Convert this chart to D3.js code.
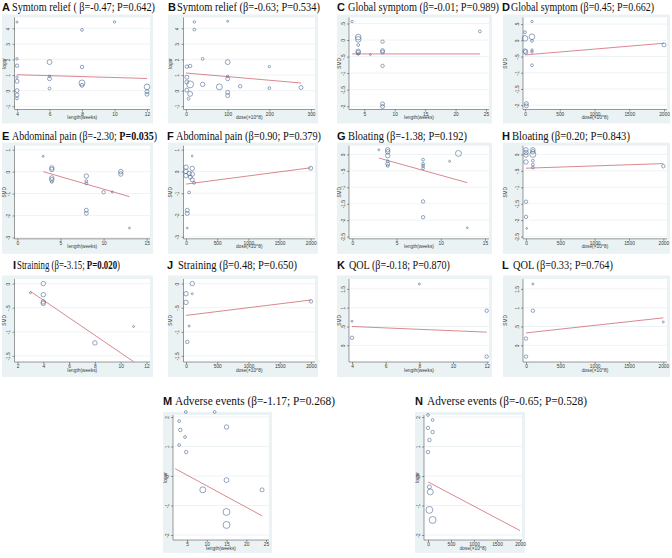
<!DOCTYPE html>
<html><head><meta charset="utf-8">
<script src="https://cdn.jsdelivr.net/npm/d3@7"></script>
<style>body{margin:0;background:#fff}svg{display:block}</style>
</head><body>
<svg id="c" width="672" height="558"></svg>
<script>
// ---------- data ----------
const letters = ["A","B","C","D","E","F","G","H","I","J","K","L","M","N"];
const outcomes = ["Symtom relief ( ","Symtom relief (","Global symptom (","Global symptom (","Abdominal pain (","Abdominal pain (","Bloating (","Bloating (","Straining (","Straining (","QOL (","QOL (","Adverse events (","Adverse events ("];
const betas = ["-0.47","-0.63","-0.01","0.45","-2.30","0.90","-1.38","0.20","-3.15","0.48","-0.18","0.33","-1.17","-0.65"];
const pvals = ["0.642","0.534","0.989","0.662","0.035","0.379","0.192","0.843","0.020","0.650","0.870","0.764","0.268","0.528"];
const xTitles = ["length(weeks)","dose(×10^8)"];
const yTitles = ["logor","logor","SMD","SMD","SMD","SMD","SMD","SMD","SMD","SMD","SMD","SMD","logor","logor"];

const xTicksWeeksA = [4,6,8,10,12];
const xTicksWeeksC = [5,10,15,20,25];
const xTicksWeeksE = [0,5,10,15];
const xTicksWeeksI = [2,4,6,8,10,12];
const xTicksDoseB = [0,100,200,300];
const xTicksDose = [0,500,1000,1500,2000];
const yTicksLogor = [-1,0,1,2,3,4];
const yTicksGlobal = [-2,-1.5,-1,-0.5,0,0.5];
const yTicksPain = [-3,-2,-1,0,1];
const yTicksBloat = [-2.5,-2,-1.5,-1,-0.5,0];
const yTicksStrain = [-1.5,-1,-0.5,0];
const yTicksQol = [0,0.5,1,1.5];
const yTicksAE = [-2,-1,0,1,2];

// points: [x, y, weight]
const ptsA = [[4,4.4,1],[10,4.41,1.5],[8,3.9,2],[4,2.04,1.5],[4,1.6,3],[6,1.83,6],[8,1.52,3],[4,0.86,1.5],[4,0.6,4],[6,0.92,1.5],[6,0.76,4],[4,0,4],[4,-0.28,4],[4,-0.5,2],[6,0.14,2],[8,0.49,9],[8,0.34,4],[12,0.24,8],[12,-0.07,4],[12,-0.23,4]];
const ptsB = [[20,4.41,1.5],[100,4.45,1],[20,3.92,2],[40,2.04,2],[100,1.83,6],[2,1.54,3],[10,1.58,3],[200,1.54,1.5],[2,0.86,4],[100,0.92,1.5],[100,0.76,4],[2,0.55,4],[10,0.40,12],[40,0.40,5],[80,0.24,9],[130,0.28,3],[200,0.16,2],[276,0.2,4],[2,0.03,4],[10,-0.21,6],[100,-0.11,4],[100,-0.32,4],[6,-0.52,2]];
const ptsC = [[3,0.56,1.5],[4,0.09,8],[4,0.02,8],[4,-0.15,2],[4,-0.34,5],[4,-0.38,5],[4,-0.42,1.5],[6,-0.44,0.8],[8,-0.05,3],[8,-0.32,4],[8,-0.36,4],[8,-0.78,3],[8,-1.93,4],[8,-2.01,4],[24,0.26,2]];
const ptsD = [[100,0.58,1.5],[0,0.25,2],[0,0.06,8],[100,0.11,8],[100,-0.02,2],[0,-0.33,5],[10,-0.36,5],[100,-0.3,1.5],[100,-0.36,1.5],[100,-0.77,2],[20,-1.95,4],[20,-2.02,4],[2000,-0.14,4]];
const ptsE = [[3,0.7,1],[4,0.17,5],[4,0.1,5],[4,-0.29,5],[4,-0.37,5],[4,-0.47,2],[8,-0.2,5],[8,-0.43,2],[8,-0.54,2],[8,-1.76,4],[8,-1.9,4],[10,-0.94,3],[11,-0.93,1],[12,0,5],[12,-0.11,5],[13,-2.57,0.8]];
const ptsF = [[100,0.71,0.8],[0,0.2,5],[100,0.14,5],[0,0,5],[50,-0.09,5],[100,-0.12,5],[0,-0.19,5],[70,-0.26,4],[100,-0.38,4],[130,-0.52,2],[50,-0.96,2],[20,-1.78,4],[20,-1.93,4],[20,-2.6,0.8],[2000,0.15,4]];
const ptsG = [[3,0.14,1],[4,0.14,5],[4,0.08,5],[4,-0.04,5],[4,-0.21,2],[4,-0.29,4],[4,-0.35,2],[8,-0.16,2],[8,-0.29,2],[8,-0.35,2],[8,-0.42,2],[8,-1.43,3],[8,-1.91,3],[11,-0.21,1],[12,0.03,9],[13,-2.23,0.8]];
const ptsH = [[0,0.14,5],[100,0.14,5],[0,0.06,5],[100,0.08,5],[0,-0.02,5],[100,0,9],[0,-0.23,5],[100,-0.19,2],[100,-0.31,2],[100,-0.4,2],[0,-1.44,3],[0,-1.9,3],[10,-2.25,0.8],[2000,-0.36,3]];
const ptsI = [[3,-0.19,1],[4,0,5],[4,-0.23,5],[4,-0.38,5],[4,-0.41,5],[8,-1.23,5],[11,-0.89,1]];
const ptsJ = [[100,0,5],[0,-0.21,5],[100,-0.21,1],[0,-0.39,5],[2000,-0.37,3],[50,-0.88,1],[20,-1.21,3]];
const ptsK = [[4,0.64,1],[4,0.2,3],[8,1.63,1],[12,0.92,3],[12,-0.3,3]];
const ptsL = [[100,1.63,1],[100,0.92,3],[0,0.18,3],[2000,0.62,1],[0,-0.3,3]];
const ptsM = [[3,1.86,2],[4.7,2.17,2],[3.3,1.56,3],[4.5,1.32,2],[3,1.05,2],[4.8,0.81,3],[12,2.17,2],[15,1.66,5],[9,-0.47,9],[15,-0.14,6],[15,-1.22,12],[15,-1.66,12],[24,-0.47,4]];
const ptsN = [[0,2.07,2],[100,1.9,2],[0,1.63,3],[100,1.49,3],[30,1.22,3],[0,0.81,3],[30,-0.37,4],[50,-0.54,9],[30,-1.15,12],[100,-1.49,12]];

// fitted meta-regression lines: [x0, y0, x1, y1]
const fits = [[4,1.02,12,0.78],[0,1.13,276,0.49],[3,-0.42,24,-0.42],[0,-0.45,2000,-0.09],[3,0,13,-1.14],[0,-0.58,2000,0.17],[3,-0.11,13,-0.86],[0,-0.42,2000,-0.28],[3,-0.16,11,-1.62],[0,-0.66,2000,-0.34],[4,0.5,12,0.35],[0,0.33,2000,0.73],[2,0.25,24,-1.35],[0,-0.2,2000,-1.85]];

const points = [ptsA,ptsB,ptsC,ptsD,ptsE,ptsF,ptsG,ptsH,ptsI,ptsJ,ptsK,ptsL,ptsM,ptsN];
const xTickSets = [xTicksWeeksA,xTicksDoseB,xTicksWeeksC,xTicksDose,xTicksWeeksE,xTicksDose,xTicksWeeksE,xTicksDose,xTicksWeeksI,xTicksDose,xTicksWeeksA,xTicksDose,xTicksWeeksC,xTicksDose];
const yTickSets = [yTicksLogor,yTicksLogor,yTicksGlobal,yTicksGlobal,yTicksPain,yTicksPain,yTicksBloat,yTicksBloat,yTicksStrain,yTicksStrain,yTicksQol,yTicksQol,yTicksAE,yTicksAE];

// ---------- layout (pixels) ----------
const rowsY = [ // box top, plot top, axis, box bottom, title baseline
  [14.5,17.4,109.5,123.5,11],
  [142.6,145.7,238.8,253.8,140],
  [275.4,278.9,362,377,269],
  [412,415,540,553,405]
];
const colsX = { // box x0, plot x0, plot x1, box x1
  A:[2,14.5,150,153], B:[168,183.5,315,318], C:[337,349,489,492], D:[503,523,667,670],
  M:[163,173,269,272], N:[415,424,522,525]
};
const panelCol = ["A","B","C","D","A","B","C","D","A","B","C","D","M","N"];
const xr = [[17,147],[186,311],[364.3,486],[525,664],[17.3,146.7],[186,310.7],[352.3,485],[526,663.3],[17.5,146.5],[186,311],[352,486.7],[526,663.3],[187,266],[428,520]];
const yr = [[106.2,28.3],[106.2,28.3],[106.2,23.5],[105.2,24.1],[237.4,149.7],[236.8,149.7],[236.6,154.4],[236.6,154.4],[355.9,283.6],[355.9,283.6],[345.3,288.9],[345.3,288.9],[535,417],[535,417]];
const titleX = [[2,12,155],[168,177,320],[337,348,499],[502,511,654],[2,12,157],[167,176,321],[337,348,467],[502,512,630],[13,17,120],[167,178,297],[337,349,450],[502,513,613],[163,175,335],[415,427,587]];

const svg = d3.select("#c");
const rScale = d3.scaleSqrt().domain([0,16]).range([0,4]);
const fmt = v => String(v).replace(/^(-?)0\./,"$1.");
const ink = "#3a3a3a";
const tickFont = 4.8;

letters.forEach((letter,i) => {
  const row = rowsY[Math.min(Math.floor(i/4),3)];
  const col = colsX[panelCol[i]];
  const g = svg.append("g");
  const bx0=col[0], px0=col[1], px1=col[2], bx1=col[3];
  const by0=row[0], py0=row[1], py1=row[2], by1=row[3];
  g.append("rect").attr("x",bx0).attr("y",by0).attr("width",bx1-bx0).attr("height",by1-by0).attr("fill","#eaf2f3");
  g.append("rect").attr("x",px0).attr("y",py0).attr("width",px1-px0).attr("height",py1-py0).attr("fill","#ffffff");
  const xt = xTickSets[i], yt = yTickSets[i];
  const x = d3.scaleLinear().domain([xt[0], xt[xt.length-1]]).range(xr[i]);
  const y = d3.scaleLinear().domain([yt[0], yt[yt.length-1]]).range(yr[i]);
  g.selectAll("line.grid").data(yt).join("line").attr("class","grid").attr("x1",px0).attr("x2",px1)
    .attr("y1",d=>y(d)).attr("y2",d=>y(d)).attr("stroke","#e3ecee").attr("stroke-width",0.6);
  const ax = g.append("g").attr("transform",`translate(0,${py1})`)
    .call(d3.axisBottom(x).tickValues(xt).tickSize(2).tickPadding(1).tickFormat(fmt));
  ax.select(".domain").attr("d",`M${px0},0H${px1}`).attr("stroke",ink).attr("stroke-width",0.5);
  ax.selectAll(".tick line").attr("stroke",ink).attr("stroke-width",0.5);
  ax.selectAll(".tick text").attr("font-size",tickFont).attr("font-family","Liberation Sans, Arial").attr("fill",ink);
  const ay = g.append("g").attr("transform",`translate(${px0},0)`)
    .call(d3.axisLeft(y).tickValues(yt).tickSize(2).tickFormat(fmt));
  ay.select(".domain").attr("d",`M0,${py0}V${py1}`).attr("stroke",ink).attr("stroke-width",0.5);
  ay.selectAll(".tick line").attr("stroke",ink).attr("stroke-width",0.5);
  ay.selectAll(".tick text").attr("font-size",tickFont).attr("font-family","Liberation Sans, Arial").attr("fill",ink)
    .attr("x",null).attr("y",0).attr("dy","0").attr("text-anchor","middle")
    .attr("transform","translate(-4.5,0) rotate(-90)");
  g.append("text").attr("x",(px0+px1)/2).attr("y",py1+9.5).attr("text-anchor","middle")
    .attr("font-size",tickFont).attr("font-family","Liberation Sans, Arial").attr("fill",ink)
    .text(xTitles[i%2]);
  g.append("text").attr("transform",`translate(${bx0+3.8},${(py0+py1)/2}) rotate(-90)`).attr("text-anchor","middle")
    .attr("font-size",tickFont).attr("font-family","Liberation Sans, Arial").attr("fill",ink)
    .text(yTitles[i]);
  const f = fits[i];
  g.append("line").attr("x1",x(f[0])).attr("y1",y(f[1])).attr("x2",x(f[2])).attr("y2",y(f[3]))
    .attr("stroke","#c9555f").attr("stroke-width",0.7);
  g.selectAll("circle").data(points[i]).join("circle")
    .attr("cx",d=>x(d[0])).attr("cy",d=>y(d[1])).attr("r",d=>rScale(d[2]))
    .attr("fill","none").attr("stroke","#4e6a96").attr("stroke-width",0.6);
  const [lx,tx,tx1] = titleX[i], tb = row[4];
  g.append("text").attr("x",lx).attr("y",tb).attr("font-family","Liberation Sans, Arial").attr("font-weight","bold")
    .attr("font-size",11).attr("fill","#111").text(letter);
  const tt = g.append("text").attr("x",tx).attr("y",tb).attr("font-family","Liberation Serif, Times New Roman")
    .attr("font-size",11.5).attr("fill","#111")
    .attr("textLength",tx1-tx).attr("lengthAdjust","spacingAndGlyphs");
  const bold = (+pvals[i] < 0.05);
  tt.append("tspan").text(outcomes[i] + "β=" + betas[i] + "; ");
  tt.append("tspan").attr("font-weight",bold?"bold":"normal").text("P=" + pvals[i]);
  tt.append("tspan").text(")");
});
</script>
</body></html>
